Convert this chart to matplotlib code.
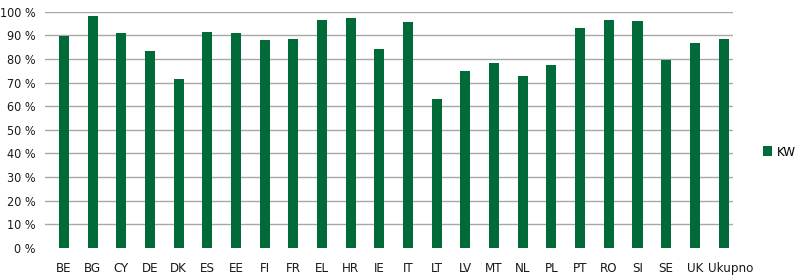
import matplotlib
matplotlib.use("Agg")
import matplotlib.pyplot as plt
import matplotlib.transforms as mtransforms
import numpy as np

countries = ["BE", "BG", "CY", "DE", "DK", "ES", "EE", "FI", "FR", "EL", "HR", "IE",
             "IT", "LT", "LV", "MT", "NL", "PL", "PT", "RO", "SI", "SE", "UK", "Ukupno"]
kw = [89.6, 98.2, 91.0, 83.2, 71.6, 91.4, 91.0, 88.0, 88.4, 96.5, 97.3, 84.4,
      95.5, 63.1, 74.8, 78.4, 72.8, 77.6, 93.2, 96.5, 96.2, 79.4, 86.9, 88.4]
yticks = list(range(0, 101, 10))

green = "#006a38"

plt.rcParams["font.family"] = ["DejaVu Sans"]
plt.rcParams["font.stretch"] = "condensed"

fig = plt.figure(figsize=(8, 2.78), dpi=100)
ax = fig.add_axes([45 / 800, 30 / 278, 688 / 800, 236.3 / 278])

x = np.arange(len(countries))
ax.bar(x, kw, width=0.35, color=green, label="KW", zorder=3)

ax.set_ylim(0, 100)
ax.set_xlim(-0.66, len(countries) - 0.67)
ax.set_yticks(yticks)
ax.set_yticklabels([f"{t} %" for t in yticks], fontsize=9, color="#1a1a1a")
ax.set_xticks(x)
ax.set_xticklabels(countries, fontsize=9.5, color="#1a1a1a")
ax.tick_params(axis="y", length=0, pad=7)
ax.tick_params(axis="x", length=0, pad=10)

# last label sits a little right of its bar, as in the original
last = ax.get_xticklabels()[-1]
last.set_transform(last.get_transform() +
                   mtransforms.ScaledTranslation(7 / 100, 0, fig.dpi_scale_trans))

for t in yticks[1:]:
    ax.axhline(t, color="#a8a8a8", linewidth=1.0, zorder=1)

for s in ax.spines.values():
    s.set_visible(False)

ax.legend(loc="center left", bbox_to_anchor=(1.043, 0.405), frameon=False,
          fontsize=9.5, handlelength=0.75, handleheight=0.75, handletextpad=0.35,
          borderaxespad=0, borderpad=0)

fig.savefig("out.png", dpi=100)
